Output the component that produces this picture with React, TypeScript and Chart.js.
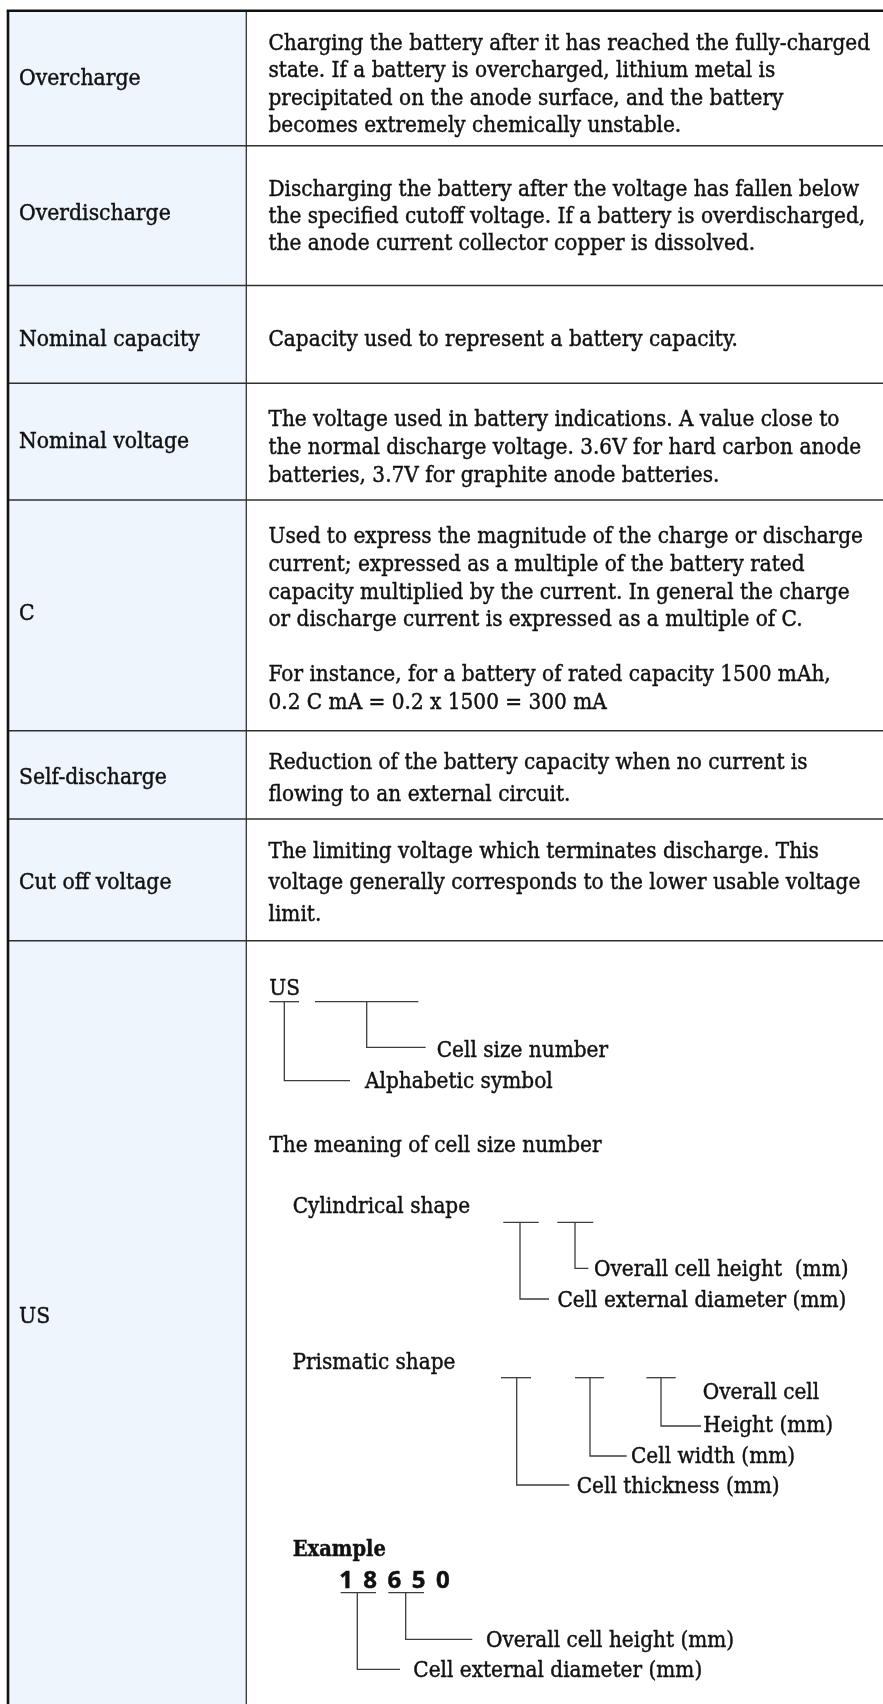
import React, { useEffect, useRef } from "react";
import { Chart, registerables } from "chart.js";

Chart.register(...registerables);

const W = 883;
const H = 1704;

// ---------- data ----------
const TERMS = [
  "Overcharge",
  "Overdischarge",
  "Nominal capacity",
  "Nominal voltage",
  "C",
  "Self-discharge",
  "Cut off voltage",
  "US",
];

const DEFINITIONS: string[][] = [
  [
    "Charging the battery after it has reached the fully-charged",
    "state. If a battery is overcharged, lithium metal is",
    "precipitated on the anode surface, and the battery",
    "becomes extremely chemically unstable.",
  ],
  [
    "Discharging the battery after the voltage has fallen below",
    "the specified cutoff voltage. If a battery is overdischarged,",
    "the anode current collector copper is dissolved.",
  ],
  ["Capacity used to represent a battery capacity."],
  [
    "The voltage used in battery indications. A value close to",
    "the normal discharge voltage. 3.6V for hard carbon anode",
    "batteries, 3.7V for graphite anode batteries.",
  ],
  [
    "Used to express the magnitude of the charge or discharge",
    "current; expressed as a multiple of the battery rated",
    "capacity multiplied by the current. In general the charge",
    "or discharge current is expressed as a multiple of C.",
    "",
    "For instance, for a battery of rated capacity 1500 mAh,",
    "0.2 C mA = 0.2 x 1500 = 300 mA",
  ],
  [
    "Reduction of the battery capacity when no current is",
    "flowing to an external circuit.",
  ],
  [
    "The limiting voltage which terminates discharge. This",
    "voltage generally corresponds to the lower usable voltage",
    "limit.",
  ],
  [],
];

const US_CODE = "US";
const US_PARTS = ["Cell size number", "Alphabetic symbol"];
const MEANING_TITLE = "The meaning of cell size number";
const CYL_TITLE = "Cylindrical shape";
const CYL_PARTS = ["Overall cell height  (mm)", "Cell external diameter (mm)"];
const PRIS_TITLE = "Prismatic shape";
const PRIS_PARTS = ["Overall cell", "Height (mm)", "Cell width (mm)", "Cell thickness (mm)"];
const EXAMPLE_TITLE = "Example";
const EXAMPLE_DIGITS = ["1", "8", "6", "5", "0"];
const EXAMPLE_PARTS = ["Overall cell height (mm)", "Cell external diameter (mm)"];

// ---------- layout (page pixels) ----------
const TABLE_LEFT = 8;
const TABLE_TOP = 10.7;
const COL_X = 246.3;
const ROW_BOTTOMS = [145.7, 285.5, 383.3, 500, 730.7, 819, 940.7];
const LABEL_X = 19;
const DEF_X = 268.5;
const LABEL_BASE = [85, 220, 346, 448, 620, 784.4, 889.4, 1322.7];
const DEF_FIRST = [50, 196, 346, 426, 543.3, 769.3, 857.7, 0];
const DEF_STEP = [27.4, 27, 27, 27.8, 27.6, 31.7, 31.65, 0];

const SERIF = '"DejaVu Serif", serif';
const FONT = `22.5px ${SERIF}`;
const TEXT = "#111111";
const LINE = "#3c3c3c";
const LABEL_BG = "#eef5fd";

const tablePlugin = {
  id: "termTable",
  afterDraw(chart: any) {
    const ctx: CanvasRenderingContext2D = chart.ctx;
    const xs = chart.scales.x;
    const ys = chart.scales.y;
    const X = (v: number) => xs.getPixelForValue(v);
    const Y = (v: number) => ys.getPixelForValue(v);

    ctx.save();
    ctx.fillStyle = "#ffffff";
    ctx.fillRect(X(0), Y(0), X(W) - X(0), Y(H) - Y(0));

    // label column background
    ctx.fillStyle = LABEL_BG;
    ctx.fillRect(X(TABLE_LEFT), Y(TABLE_TOP), X(COL_X) - X(TABLE_LEFT), Y(H) - Y(TABLE_TOP));

    // horizontal calibration of the serif text width
    ctx.font = FONT;
    const k = 601.5 / ctx.measureText(DEFINITIONS[0][0]).width;
    const kl = 151.7 / ctx.measureText(TERMS[1]).width;

    const txt = (s: string, x: number, y: number, font = FONT, kk = k, align: CanvasTextAlign = "left") => {
      ctx.save();
      ctx.font = font;
      ctx.fillStyle = TEXT;
      ctx.strokeStyle = TEXT;
      ctx.lineWidth = 0.45;
      ctx.textAlign = align;
      ctx.textBaseline = "alphabetic";
      ctx.translate(X(x), Y(y));
      ctx.scale(kk, 1);
      ctx.fillText(s, 0, 0);
      ctx.strokeText(s, 0, 0);
      ctx.restore();
    };

    const seg = (pts: number[][], w = 1.3, color = LINE) => {
      ctx.save();
      ctx.strokeStyle = color;
      ctx.lineWidth = w;
      ctx.beginPath();
      pts.forEach((p, i) => (i === 0 ? ctx.moveTo(X(p[0]), Y(p[1])) : ctx.lineTo(X(p[0]), Y(p[1]))));
      ctx.stroke();
      ctx.restore();
    };

    // grid lines
    ROW_BOTTOMS.forEach((b) => seg([[TABLE_LEFT, b], [W, b]], 1.4, "#303030"));
    seg([[COL_X, TABLE_TOP], [COL_X, H]], 1.3, "#303030");
    seg([[TABLE_LEFT - 1.3, TABLE_TOP], [W, TABLE_TOP]], 2.6, "#111111");
    seg([[TABLE_LEFT, TABLE_TOP], [TABLE_LEFT, H]], 2.6, "#111111");

    // labels and definitions
    TERMS.forEach((t, i) => {
      txt(t, LABEL_X, LABEL_BASE[i], FONT, kl);
      DEFINITIONS[i].forEach((line, j) => {
        if (line) txt(line, DEF_X, DEF_FIRST[i] + j * DEF_STEP[i]);
      });
    });

    // ---- US diagram ----
    txt(US_CODE, 269.3, 995);
    seg([[269.3, 1001.7], [299, 1001.7]]);
    seg([[315, 1001.7], [418.3, 1001.7]]);
    seg([[366.7, 1001.7], [366.7, 1047.3], [425.7, 1047.3]]);
    txt(US_PARTS[0], 436.7, 1056.7);
    seg([[284.3, 1001.7], [284.3, 1080.7], [350, 1080.7]]);
    txt(US_PARTS[1], 365, 1088.3);

    txt(MEANING_TITLE, 269.3, 1151.7);

    txt(CYL_TITLE, 292.7, 1212.7);
    seg([[503.3, 1222.3], [538.7, 1222.3]]);
    seg([[557.3, 1222.3], [593.3, 1222.3]]);
    seg([[575, 1222.3], [575, 1268.3], [588.4, 1268.3]]);
    txt(CYL_PARTS[0], 594, 1276);
    seg([[520, 1222.3], [520, 1299], [549, 1299]]);
    txt(CYL_PARTS[1], 557.4, 1306.7);

    txt(PRIS_TITLE, 292.5, 1369.4);
    seg([[501, 1377.7], [531, 1377.7]]);
    seg([[575, 1377.7], [604, 1377.7]]);
    seg([[646.4, 1377.7], [675.7, 1377.7]]);
    txt(PRIS_PARTS[0], 702.7, 1399.4);
    seg([[661, 1377.7], [661, 1426], [701, 1426]]);
    txt(PRIS_PARTS[1], 703.3, 1431.7);
    seg([[590, 1377.7], [590, 1456], [626.7, 1456]]);
    txt(PRIS_PARTS[2], 631, 1462.7);
    seg([[516.7, 1377.7], [516.7, 1485], [569.3, 1485]]);
    txt(PRIS_PARTS[3], 576.7, 1492.7);

    txt(EXAMPLE_TITLE, 292.7, 1556, `bold 22.5px ${SERIF}`, k * 0.97);
    EXAMPLE_DIGITS.forEach((d, i) =>
      txt(d, 346 + i * 24.2, 1587.7, `bold 24px "Open Sans", "DejaVu Sans", sans-serif`, 1, "center")
    );
    seg([[340.7, 1592.7], [376, 1592.7]]);
    seg([[388.3, 1592.7], [424, 1592.7]]);
    seg([[405.7, 1592.7], [405.7, 1639.3], [472.3, 1639.3]]);
    txt(EXAMPLE_PARTS[0], 486, 1647.3);
    seg([[357.3, 1592.7], [357.3, 1669.3], [400, 1669.3]]);
    txt(EXAMPLE_PARTS[1], 413.3, 1676.7);

    ctx.restore();
  },
};

export default function App() {
  const ref = useRef<HTMLCanvasElement | null>(null);
  useEffect(() => {
    if (!ref.current) return;
    const chart = new Chart(ref.current, {
      type: "scatter",
      data: { datasets: [] },
      options: {
        responsive: false,
        animation: false,
        devicePixelRatio: 1,
        events: [],
        layout: { padding: 0 },
        plugins: { legend: { display: false }, tooltip: { enabled: false } },
        scales: {
          x: { type: "linear", min: 0, max: W, display: false },
          y: { type: "linear", min: 0, max: H, reverse: true, display: false },
        },
      },
      plugins: [tablePlugin],
    });
    return () => chart.destroy();
  }, []);
  return (
    <canvas
      ref={ref}
      width={W}
      height={H}
      style={{ position: "absolute", left: 0, top: 0, width: W, height: H, display: "block" }}
    />
  );
}
